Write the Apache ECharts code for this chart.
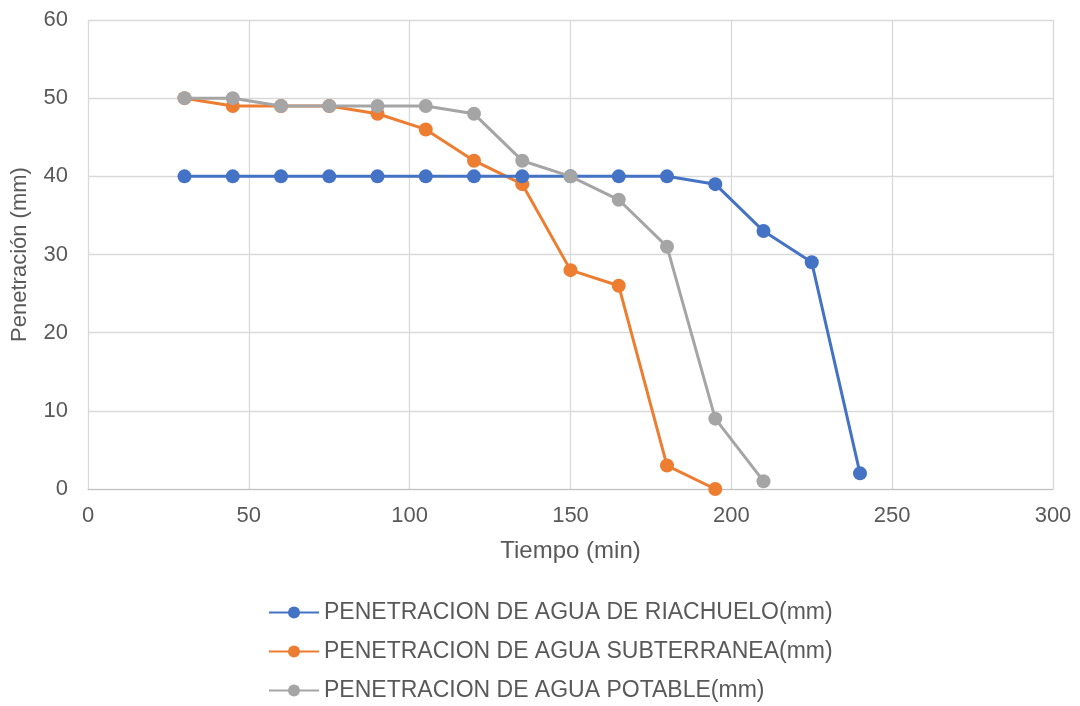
<!DOCTYPE html>
<html><head><meta charset="utf-8">
<script src="https://cdn.jsdelivr.net/npm/echarts@6/dist/echarts.min.js"></script>
<style>html,body{margin:0;padding:0;background:#fff}#c{width:1080px;height:706px}</style>
</head><body><div id="c"></div>
<script>
const times = [30,45,60,75,90,105,120,135,150,165,180,195,210,225,240];
const riachuelo = [40,40,40,40,40,40,40,40,40,40,40,39,33,29,2];
const subterranea = [50,49,49,49,48,46,42,39,28,26,3,0];
const potable = [50,50,49,49,49,49,48,42,40,37,31,9,1];
const names = ['PENETRACION DE AGUA DE RIACHUELO(mm)','PENETRACION DE AGUA SUBTERRANEA(mm)','PENETRACION DE AGUA POTABLE(mm)'];
const colors = ['#4472C4','#ED7D31','#A5A5A5'];
const pair = (v) => v.map((y,i)=>[times[i],y]);
const font = 'Liberation Sans, Arial, sans-serif';
const chart = echarts.init(document.getElementById('c'));
const mk = (i, vals, z) => ({
  name: names[i], type:'line', data: pair(vals), z: z,
  symbol:'circle', symbolSize:14, lineStyle:{width:3,color:colors[i]},
  itemStyle:{color:colors[i]}
});
chart.setOption({
  animation:false,
  grid:{left:88,right:27,top:20,bottom:217,outerBoundsMode:'none',containLabel:false},
  xAxis:{type:'value',min:0,max:300,interval:50,name:'Tiempo (min)',nameLocation:'middle',nameGap:50,
    nameTextStyle:{fontSize:24,color:'#595959',fontFamily:font},
    axisLabel:{fontSize:22,color:'#595959',fontFamily:font,margin:16},
    axisLine:{show:true,lineStyle:{color:'#bfbfbf'}},axisTick:{show:false},
    splitLine:{show:true,lineStyle:{color:'#d9d9d9',width:1.3}}},
  yAxis:{type:'value',min:0,max:60,interval:10,name:'Penetración (mm)',nameLocation:'middle',nameGap:57,
    nameTextStyle:{fontSize:22,color:'#595959',fontFamily:font},
    axisLabel:{fontSize:22,color:'#595959',fontFamily:font,margin:20},
    axisLine:{show:false},axisTick:{show:false},
    splitLine:{show:true,lineStyle:{color:'#d9d9d9',width:1.3}}},
  legend:{orient:'vertical',left:263,top:601,height:160,padding:[0,5],itemGap:16,itemWidth:50,itemHeight:15,
    textStyle:{fontSize:23,color:'#595959',fontFamily:font},
    data:names},
  series:[mk(0,riachuelo,3),mk(1,subterranea,2),mk(2,potable,4)]
});
</script></body></html>
